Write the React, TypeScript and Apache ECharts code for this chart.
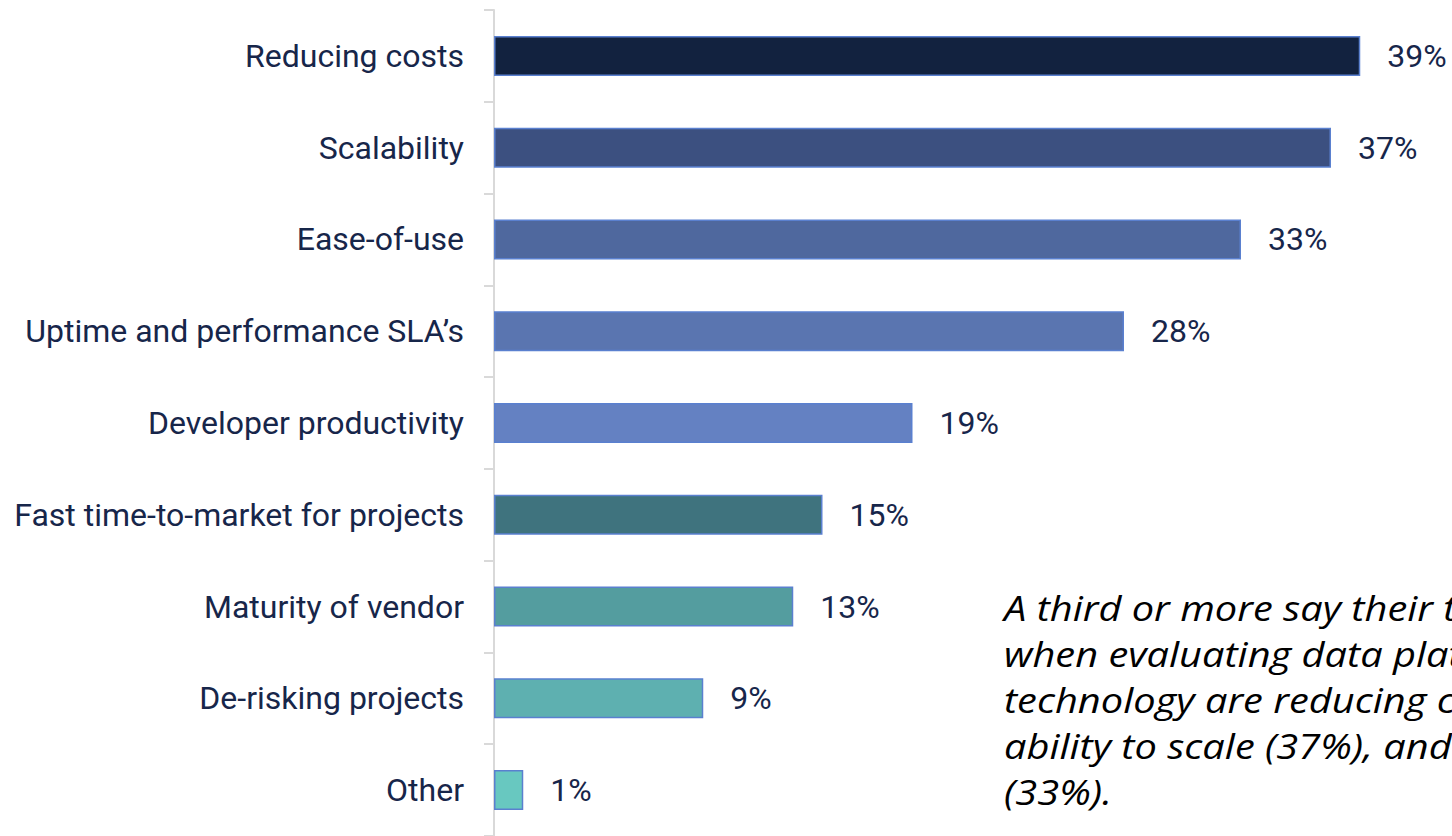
import React, { useEffect, useRef } from "react";
import * as echarts from "echarts";

const categories = [
  "Reducing costs",
  "Scalability",
  "Ease-of-use",
  "Uptime and performance SLA’s",
  "Developer productivity",
  "Fast time-to-market for projects",
  "Maturity of vendor",
  "De-risking projects",
  "Other",
];
const values = [38.5, 37.2, 33.2, 28.0, 18.6, 14.6, 13.3, 9.3, 1.3];
const barColors = [
  "#12223f",
  "#3c5080",
  "#4f689e",
  "#5a75b0",
  "#6481c2",
  "#3f737e",
  "#549d9f",
  "#5eb0b0",
  "#68c8c0",
];
const noteLines = [
  "A third or more say their top priorities",
  "when evaluating data platform",
  "technology are reducing costs (39%),",
  "ability to scale (37%), and ease-of-use",
  "(33%).",
];

export default function App() {
  const ref = useRef<HTMLDivElement>(null);
  useEffect(() => {
    if (!ref.current) return;
    const chart = echarts.init(ref.current, null, { renderer: "svg" });
    const textColor = "#17264a";
    chart.setOption({
      animation: false,
      backgroundColor: "#ffffff",
      grid: { left: 494, width: 900, top: 10, bottom: -2, containLabel: false },
      xAxis: {
        type: "value",
        min: 0,
        max: 40,
        show: false,
      },
      yAxis: {
        type: "category",
        data: categories,
        inverse: true,
        axisLine: { show: true, lineStyle: { color: "#d9d9d9", width: 2 } },
        axisTick: { show: true, length: 10, lineStyle: { color: "#d9d9d9", width: 2 } },
        axisLabel: {
          margin: 30,
          color: textColor,
          fontFamily: "Roboto",
          fontSize: 32,
        },
        splitLine: { show: false },
      },
      series: [
        {
          type: "bar",
          barWidth: 40,
          data: values.map((v, i) => ({
            value: v,
            itemStyle: { color: barColors[i] },
          })),
          itemStyle: { borderColor: "#5a80cf", borderWidth: 1.5 },
          label: {
            show: true,
            position: "right",
            distance: 27,
            color: textColor,
            fontFamily: "Roboto",
            fontSize: 32,
            formatter: (p: any) => Math.round(p.value) + "%",
          },
        },
      ],
      graphic: [
        {
          type: "text",
          x: 1004,
          y: 585,
          scaleX: 1.17,
          style: {
            text: noteLines.join("\n"),
            fill: "#000000",
            fontFamily: "Open Sans",
            fontStyle: "italic",
            fontSize: 34,
            lineHeight: 46,
          },
        },
      ],
    });
    return () => chart.dispose();
  }, []);
  return (
    <div
      ref={ref}
      style={{ position: "fixed", left: 0, top: 0, width: 1452, height: 836 }}
    />
  );
}
